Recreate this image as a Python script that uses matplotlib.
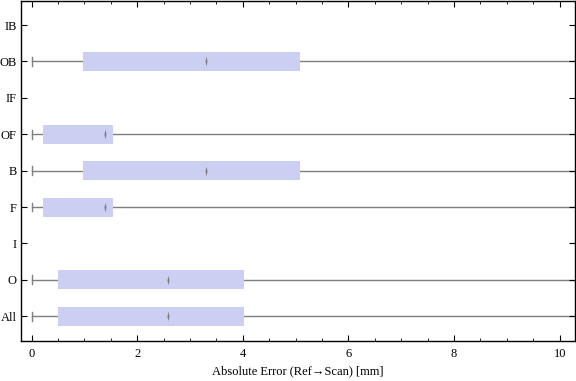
import matplotlib
matplotlib.use('Agg')
import matplotlib.pyplot as plt
import numpy as np

plt.rcParams['font.family'] = ['Liberation Serif', 'DejaVu Serif']

# categories bottom to top
categories = ['All', 'O', 'I', 'F', 'B', 'OF', 'IF', 'OB', 'IB']
whisker_low = [0.0, 0.0, None, 0.0, 0.0, 0.0, None, 0.0, None]
q1 = [0.51, 0.51, None, 0.21, 0.97, 0.21, None, 0.97, None]
q3 = [4.03, 4.03, None, 1.55, 5.08, 1.55, None, 5.08, None]
median = [2.59, 2.59, None, 1.40, 3.31, 1.40, None, 3.31, None]
whisker_high = [12.0, 12.0, None, 12.0, 12.0, 12.0, None, 12.0, None]

box_color = '#CBD0F3'
line_color = '#7f7f7f'
fontsize = 9

fig = plt.figure(figsize=(5.76, 3.81), dpi=100)
ax = fig.add_axes([21 / 576, 1 - 341 / 381, 554 / 576, 340 / 381])

diamond = [(-0.22, 0), (0, 1), (0.22, 0), (0, -1), (-0.22, 0)]
height = 0.52
for i, cat in enumerate(categories):
    y = i + 1
    if q1[i] is None:
        continue
    ax.plot([whisker_low[i], whisker_high[i]], [y, y], color=line_color, lw=1, zorder=1)
    ax.plot([whisker_low[i]] * 2, [y - 0.12, y + 0.12], color=line_color, lw=1, zorder=1)
    ax.barh(y, q3[i] - q1[i], left=q1[i], height=height, color=box_color, zorder=2)
    ax.plot(median[i], y, marker=diamond, markersize=7, color='#808080', markeredgewidth=0, zorder=3)

ax.set_xlim(-0.2, 10.29)
ax.set_ylim(0.32, 9.66)
ax.set_yticks(np.arange(1, len(categories) + 1))
ax.set_yticklabels(categories, fontsize=fontsize)
ax.set_xticks([0, 2, 4, 6, 8, 10])
ax.set_xticks(np.arange(0, 10.3, 0.5), minor=True)
ax.tick_params(axis='x', which='major', direction='in', length=4, width=0.8, labelsize=fontsize, top=True, pad=5)
ax.tick_params(axis='x', which='minor', direction='in', length=2, width=0.6, top=True)
ax.tick_params(axis='y', which='major', direction='in', length=4, width=0.8, right=True, pad=3)
ax.tick_params(axis='y', which='minor', left=False, right=False)
for s in ax.spines.values():
    s.set_linewidth(1.0)

ax.set_xlabel('Absolute Error (Ref\u2192Scan) [mm]', fontsize=fontsize, labelpad=4)

fig.savefig('out.png', dpi=100)
